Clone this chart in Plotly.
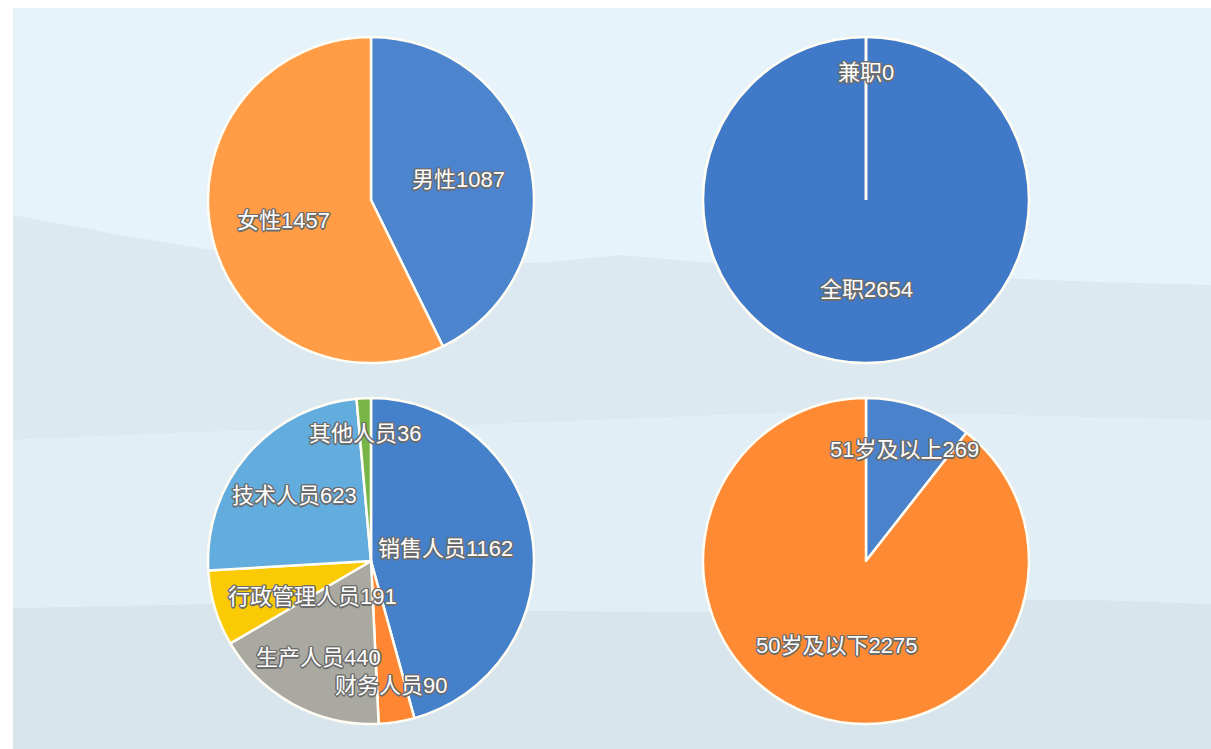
import math
import plotly.graph_objects as go

W, H = 1211, 749

# ---- data ----
gender_labels = ["男性", "女性"]
gender_values = [1087, 1457]
gender_colors = ["#4C85CE", "#FF9C45"]

job_type_labels = ["兼职", "全职"]
job_type_values = [0, 2654]
job_type_colors = ["#5A90D4", "#4079C7"]

role_labels = ["销售人员", "财务人员", "生产人员", "行政管理人员", "技术人员", "其他人员"]
role_values = [1162, 90, 440, 191, 623, 36]
role_colors = ["#4580CB", "#FF8633", "#A9A9A1", "#FACB05", "#63ACDE", "#79B447"]

age_labels = ["51岁及以上", "50岁及以下"]
age_values = [269, 2275]
age_colors = ["#4A82CB", "#FF8A34"]


def px(x, y):
    return x / W, 1 - y / H


def dom(x0, y0, x1, y1):
    a, b = px(x0, y1)
    c, d = px(x1, y0)
    return dict(x=[a, c], y=[b, d])


FS = 22
outline = "#6c6c6c"
offs = [(-1, -1), (0, -1), (1, -1), (-1, 0), (1, 0), (-1, 1), (0, 1), (1, 1),
        (-1.5, 0), (1.5, 0), (0, -1.5), (0, 1.5)]
shadow = ", ".join(f"{dx}px {dy}px 0px {outline}" for dx, dy in offs)
font = dict(family="Liberation Sans, Noto Sans CJK SC, sans-serif", size=FS, color="white", shadow=shadow)

fig = go.Figure()
annotations = []


def text_width(s):
    return sum(FS if ord(c) > 0x2E80 else 0.556 * FS for c in s)


def add_pie(labels, values, colors, box):
    domain = dom(*box)
    fig.add_trace(go.Pie(
        labels=labels, values=values, sort=False, direction="clockwise", rotation=0,
        marker=dict(colors=colors, line=dict(color="#FFFDF4", width=2.5)),
        textinfo="none", domain=domain, showlegend=False, hoverinfo="label+value",
    ))
    # label positions derived from the data (slice mid-angles, small slices pushed outward)
    x0, y0, x1, y1 = box
    cx, cy = (x0 + x1) / 2, (y0 + y1) / 2
    r = min(x1 - x0, y1 - y0) / 2
    total = sum(values)
    cum = 0
    for lab, v in zip(labels, values):
        frac = v / total
        mid = (cum + v / 2) / total * 2 * math.pi
        cum += v
        k = 0.5 + 0.3 * max(0.0, 1 - frac / 0.4)
        k = min(0.78, max(0.55, k))
        lx = cx + k * r * math.sin(mid)
        ly = cy - k * r * math.cos(mid)
        txt = f"{lab}{v}"
        half = text_width(txt) / 2
        lx = max(cx - r + 20 + half, min(cx + r - 20 - half, lx))
        ax, ay = px(lx, ly)
        annotations.append(dict(x=ax, y=ay, xref="paper", yref="paper", text=txt,
                                showarrow=False, font=font, xanchor="center", yanchor="middle"))
    return cx, cy, r


add_pie(gender_labels, gender_values, gender_colors, (208, 37, 534, 363))
jcx, jcy, jr = add_pie(job_type_labels, job_type_values, job_type_colors, (703, 37, 1029, 363))
add_pie(role_labels, role_values, role_colors, (208, 398, 534, 724))
add_pie(age_labels, age_values, age_colors, (703, 398, 1029, 724))


def poly(points, color):
    path = "M " + " L ".join(f"{px(x, y)[0]:.5f},{px(x, y)[1]:.5f}" for x, y in points) + " Z"
    return dict(type="path", path=path, xref="paper", yref="paper", fillcolor=color,
                line=dict(width=0), layer="below")


ridge1 = [(13, 215), (120, 235), (200, 248), (300, 262), (420, 268), (550, 262), (620, 255),
          (700, 262), (800, 272), (900, 272), (1000, 278), (1100, 282), (1211, 285)]
ridge2 = [(13, 440), (200, 432), (400, 428), (600, 420), (800, 412), (1000, 415), (1211, 420)]
ridge3 = [(13, 608), (120, 606), (260, 603), (400, 610), (700, 612), (900, 606), (1000, 600),
          (1100, 600), (1211, 604)]

shapes = [
    dict(type="rect", xref="paper", yref="paper", x0=13 / W, x1=1, y0=0, y1=1 - 8 / H,
         fillcolor="#E6F3FB", line=dict(width=0), layer="below"),
    poly(ridge1 + list(reversed(ridge2)), "#DDE9F1"),
    poly(ridge2 + list(reversed(ridge3)), "#E2EEF5"),
    poly(ridge3 + [(1211, 749), (13, 749)], "#D9E5EC"),
]
# border of the zero-valued "兼职" slice (radius at 12 o'clock)
lx0, ly0 = px(jcx, jcy)
lx1, ly1 = px(jcx, jcy - jr)
shapes.append(dict(type="line", xref="paper", yref="paper", x0=lx0, y0=ly0, x1=lx1, y1=ly1,
                   line=dict(color="#FFFDF4", width=3), layer="above"))

fig.update_layout(
    width=W, height=H, margin=dict(l=0, r=0, t=0, b=0),
    paper_bgcolor="white", plot_bgcolor="white", shapes=shapes, annotations=annotations,
)

fig.write_html("out.html", config={"displayModeBar": False},
               post_script="document.body.style.margin='0px';document.body.style.overflow='hidden';")
